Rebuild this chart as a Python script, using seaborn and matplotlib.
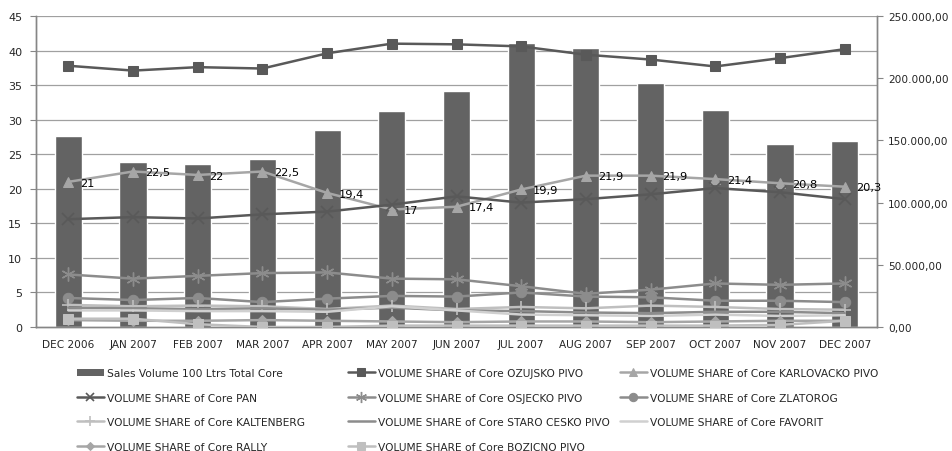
import numpy as np
import pandas as pd
import matplotlib
matplotlib.use("Agg")
import matplotlib.pyplot as plt
from matplotlib.patches import Patch
from matplotlib.ticker import FuncFormatter
import seaborn as sns

months = ["DEC 2006", "JAN 2007", "FEB 2007", "MAR 2007", "APR 2007", "MAY 2007",
          "JUN 2007", "JUL 2007", "AUG 2007", "SEP 2007", "OCT 2007", "NOV 2007", "DEC 2007"]

sales_volume = [153300, 133000, 131000, 135000, 158400, 173700, 190000,
                228300, 224300, 196000, 174700, 147400, 149300]

ozujsko = [37.8, 37.1, 37.6, 37.4, 39.6, 41.0, 40.9, 40.6, 39.4, 38.7, 37.7, 38.9, 40.2]
karlovacko = [21.0, 22.5, 22.0, 22.5, 19.4, 17.0, 17.4, 19.9, 21.9, 21.9, 21.4, 20.8, 20.3]
pan = [15.6, 15.9, 15.7, 16.3, 16.7, 17.7, 18.9, 18.0, 18.5, 19.2, 20.1, 19.5, 18.5]
osjecko = [7.6, 7.0, 7.4, 7.8, 7.9, 7.0, 6.9, 5.9, 4.8, 5.4, 6.3, 6.1, 6.3]
zlatorog = [4.2, 3.9, 4.2, 3.6, 4.1, 4.5, 4.4, 5.0, 4.4, 4.3, 3.8, 3.8, 3.6]
kaltenberg = [3.2, 3.0, 3.1, 3.0, 2.6, 3.1, 2.6, 2.9, 2.7, 3.1, 2.9, 2.6, 2.5]
staro_cesko = [2.8, 2.7, 2.6, 2.7, 2.5, 2.8, 2.4, 2.3, 2.1, 2.0, 2.2, 2.2, 2.0]
favorit = [2.4, 2.4, 2.3, 2.3, 2.2, 3.0, 2.4, 1.8, 1.7, 1.6, 1.8, 1.6, 1.7]
rally = [1.0, 0.9, 0.9, 1.0, 0.9, 0.8, 0.7, 0.8, 0.8, 0.7, 0.8, 0.9, 0.9]
bozicno = [1.2, 1.2, 0.4, 0.0, 0.0, 0.2, 0.2, 0.2, 0.2, 0.2, 0.2, 0.3, 0.9]

left_ticks = list(range(0, 46, 5))
right_ticks = list(range(0, 250001, 50000))

sns.set_style("white")
plt.rcParams["font.family"] = ["DejaVu Sans"]

fig = plt.figure(figsize=(9.52, 4.52), dpi=100)
rect = [36 / 952, 1 - 328 / 452, (877 - 36) / 952, (328 - 17) / 452]
ax_bar = fig.add_axes(rect)
ax_line = ax_bar.twinx()

AXC = "#868686"
TXT = "#262626"

# bars (right axis)
df_bar = pd.DataFrame({"month": months, "sales": sales_volume})
sns.barplot(data=df_bar, x="month", y="sales", color="#636363", saturation=1,
            width=0.42, ax=ax_bar, zorder=2)
ax_bar.set_ylim(0, 250000)
ax_bar.set_xlim(-0.5, len(months) - 0.5)
ax_bar.set_xlabel("")
ax_bar.set_ylabel("")
ax_bar.yaxis.tick_right()
ax_bar.yaxis.set_label_position("right")
ax_bar.set_yticks(right_ticks)
ax_bar.yaxis.set_major_formatter(
    FuncFormatter(lambda v, p: f"{v:,.2f}".replace(",", "X").replace(".", ",").replace("X", ".")))
# horizontal gridlines following the left axis ticks
scale = 250000 / 45
for t in left_ticks[1:]:
    ax_bar.axhline(t * scale, color="#a0a0a0", lw=0.9, zorder=0)

# lines (left axis)
pos = np.arange(len(months))
series = [
    ("VOLUME SHARE of Core OZUJSKO PIVO", ozujsko, "#595959", "s", 7.5, 0),
    ("VOLUME SHARE of Core KARLOVACKO PIVO", karlovacko, "#a6a6a6", "^", 7.5, 0),
    ("VOLUME SHARE of Core PAN", pan, "#595959", "x", 8, 1.2),
    ("VOLUME SHARE of Core OSJECKO PIVO", osjecko, "#8c8c8c", (6, 2, 0), 10, 1.0),
    ("VOLUME SHARE of Core ZLATOROG", zlatorog, "#8c8c8c", "o", 7.5, 0),
    ("VOLUME SHARE of Core KALTENBERG", kaltenberg, "#bfbfbf", "+", 9, 1.2),
    ("VOLUME SHARE of Core STARO CESKO PIVO", staro_cesko, "#8c8c8c", None, 0, 0),
    ("VOLUME SHARE of Core FAVORIT", favorit, "#d0d0d0", None, 0, 0),
    ("VOLUME SHARE of Core RALLY", rally, "#a6a6a6", "D", 5, 0),
    ("VOLUME SHARE of Core BOZICNO PIVO", bozicno, "#bfbfbf", "s", 7.5, 0),
]
handles = {}
for name, vals, col, mk, ms, mew in series:
    kw = dict(x=pos, y=vals, color=col, lw=1.8, ax=ax_line, label=name, zorder=3)
    if mk is not None:
        kw.update(marker=mk, markersize=ms, markeredgecolor=col, markerfacecolor=col)
        if mew:
            kw.update(markeredgewidth=mew)
    sns.lineplot(**kw)
h, l = ax_line.get_legend_handles_labels()
for hh, ll in zip(h, l):
    handles[ll] = hh
if ax_line.get_legend() is not None:
    ax_line.get_legend().remove()

for i, v in enumerate(karlovacko):
    ax_line.annotate(f"{v:g}".replace(".", ","), (i, v), xytext=(8.5, -0.5),
                     textcoords="offset points", va="center", ha="left",
                     fontsize=8.2, color="#000000", zorder=5)

ax_line.set_ylim(0, 45)
ax_line.set_xlim(-0.5, len(months) - 0.5)
ax_line.yaxis.tick_left()
ax_line.set_yticks(left_ticks)
ax_line.set_ylabel("")

# styling
for a in (ax_bar, ax_line):
    a.spines["top"].set_visible(False)
    for s in ("left", "right", "bottom"):
        a.spines[s].set_color(AXC)
        a.spines[s].set_linewidth(1.0)
ax_bar.set_xticks(pos)
ax_bar.set_xticklabels(months)
ax_bar.set_xticks(np.arange(-0.5, len(months), 1.0), minor=True)
ax_bar.tick_params(axis="x", which="major", length=0, labelsize=7.6, colors=TXT, pad=9)
ax_bar.tick_params(axis="x", which="minor", length=4, color=AXC, direction="out")
ax_bar.tick_params(axis="y", which="major", length=4, color=AXC, direction="out",
                   labelsize=7.6, labelcolor=TXT, pad=4, right=True, left=False)
ax_line.tick_params(axis="y", which="major", length=4, color=AXC, direction="out",
                    labelsize=8, labelcolor=TXT, pad=6, left=True, right=False)
ax_line.tick_params(axis="x", length=0)

# legends (three columns like Excel)
bar_handle = Patch(facecolor="#636363", edgecolor="none")
cols = [
    [(bar_handle, "Sales Volume 100 Ltrs Total Core"),
     (handles["VOLUME SHARE of Core PAN"], "VOLUME SHARE of Core PAN"),
     (handles["VOLUME SHARE of Core KALTENBERG"], "VOLUME SHARE of Core KALTENBERG"),
     (handles["VOLUME SHARE of Core RALLY"], "VOLUME SHARE of Core RALLY")],
    [(handles["VOLUME SHARE of Core OZUJSKO PIVO"], "VOLUME SHARE of Core OZUJSKO PIVO"),
     (handles["VOLUME SHARE of Core OSJECKO PIVO"], "VOLUME SHARE of Core OSJECKO PIVO"),
     (handles["VOLUME SHARE of Core STARO CESKO PIVO"], "VOLUME SHARE of Core STARO CESKO PIVO"),
     (handles["VOLUME SHARE of Core BOZICNO PIVO"], "VOLUME SHARE of Core BOZICNO PIVO")],
    [(handles["VOLUME SHARE of Core KARLOVACKO PIVO"], "VOLUME SHARE of Core KARLOVACKO PIVO"),
     (handles["VOLUME SHARE of Core ZLATOROG"], "VOLUME SHARE of Core ZLATOROG"),
     (handles["VOLUME SHARE of Core FAVORIT"], "VOLUME SHARE of Core FAVORIT")],
]
col_x = [77, 348, 620]
for cx, items in zip(col_x, cols):
    leg = fig.legend([it[0] for it in items], [it[1] for it in items],
                     loc="upper left", bbox_to_anchor=(cx / 952, 1 - 369 / 452),
                     frameon=False, borderpad=0, borderaxespad=0,
                     fontsize=7.7, handlelength=2.5, handletextpad=0.3,
                     labelspacing=1.36, markerscale=0.8)
    for t in leg.get_texts():
        t.set_color(TXT)

fig.savefig("out.png", dpi=100)
